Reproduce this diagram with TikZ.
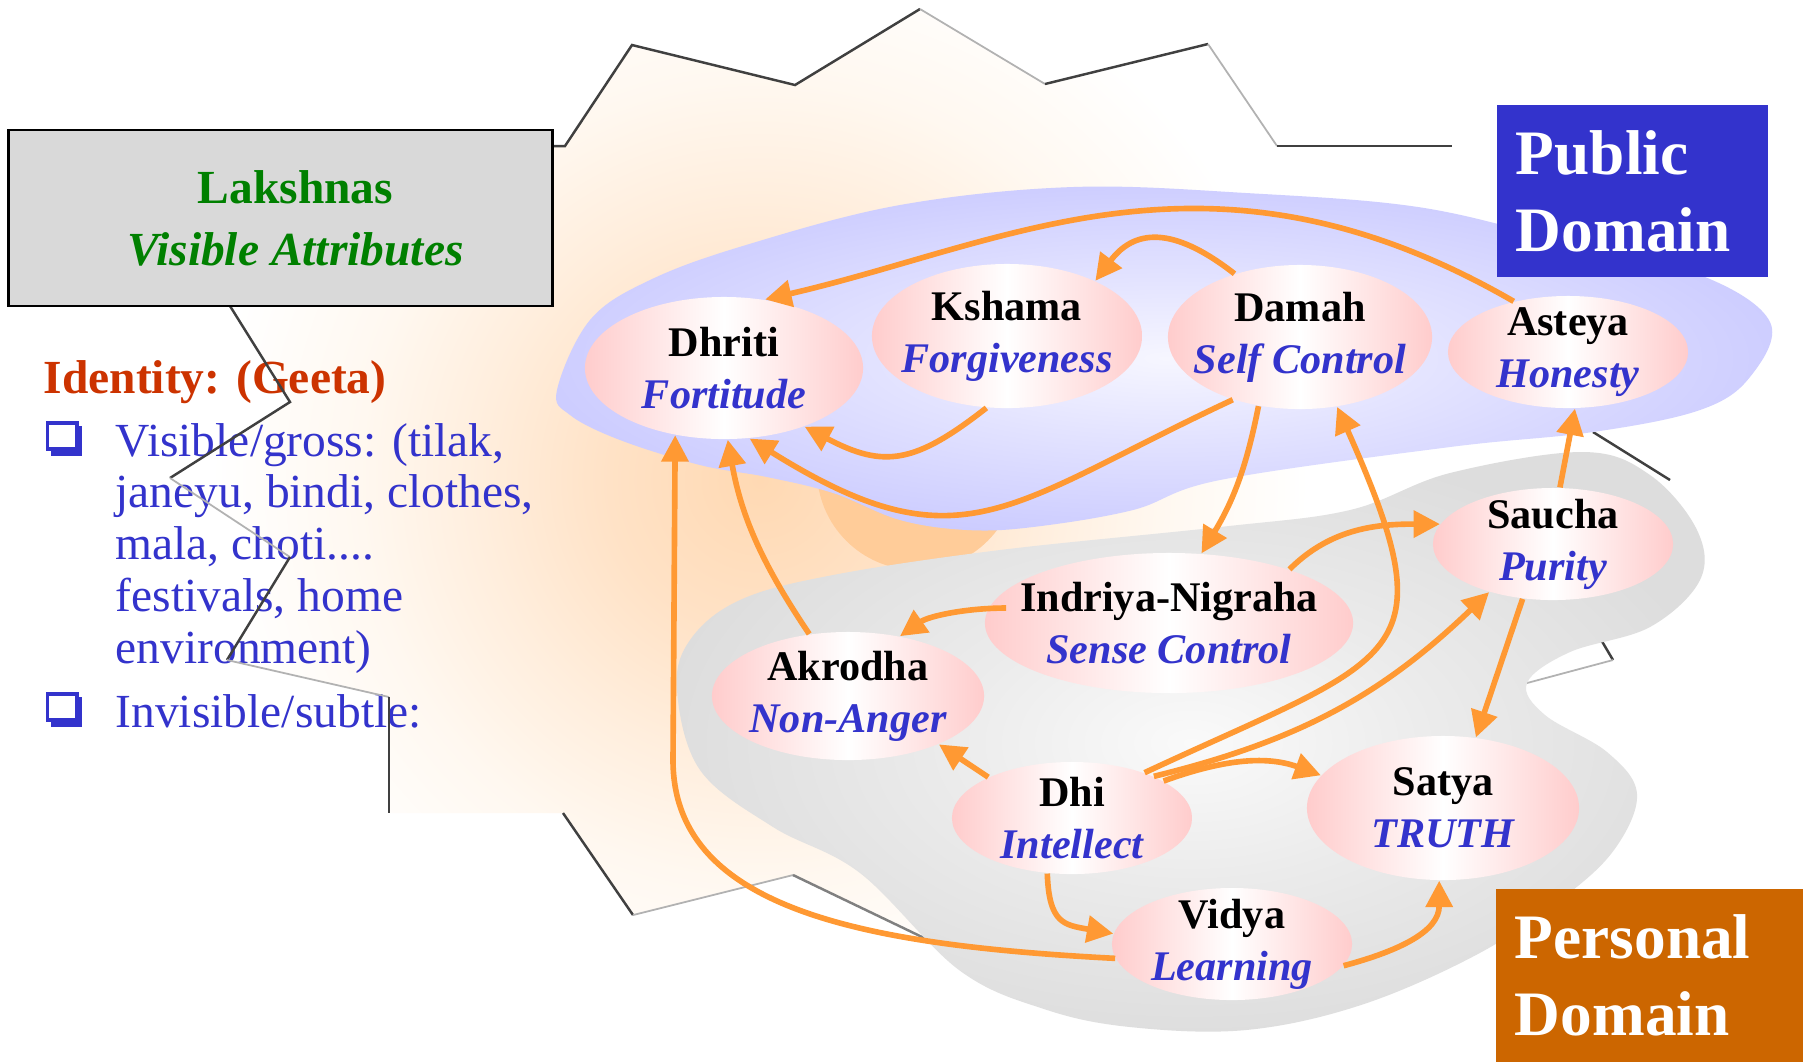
\documentclass[tikz,border=0pt]{standalone}
\usepackage{fontspec}
\setmainfont{Liberation Serif}
\usepackage{tikz}
\usetikzlibrary{arrows.meta, shapes.geometric}
\definecolor{pfeil}{HTML}{FF9933}
\definecolor{tinte}{HTML}{3333CC}
\definecolor{rosa}{HTML}{FFCCCC}
\definecolor{lila}{HTML}{CCCCFF}
\definecolor{lilamitte}{HTML}{E2E2FF}
\definecolor{lilahell}{HTML}{F6F6FF}
\definecolor{grau}{HTML}{DDDDDD}
\definecolor{graumitte}{HTML}{EBEBEB}
\definecolor{grauhell}{HTML}{FAFAFA}
\definecolor{pfirsich}{HTML}{FFCC99}
\definecolor{glut1}{HTML}{FFD9B3}
\definecolor{glut2}{HTML}{FFE2C6}
\definecolor{glut3}{HTML}{FFEEDD}
\definecolor{glut4}{HTML}{FFF8F0}
\definecolor{rostrot}{HTML}{CC3300}
\definecolor{gruen}{HTML}{008000}
\definecolor{ocker}{HTML}{CC6600}
\definecolor{kasten}{HTML}{D9D9D9}

\pgfdeclareradialshading{glut}{\pgfpoint{0bp}{0bp}}{color(0bp)=(glut1); color(5.4bp)=(glut2); color(10bp)=(glut3); color(14.3bp)=(glut4); color(19.6bp)=(white); color(50bp)=(white)}
\pgfdeclareradialshading{lilaverlauf}{\pgfpoint{0bp}{0bp}}{color(0bp)=(lilahell); color(12bp)=(lilamitte); color(26bp)=(lila); color(50bp)=(lila)}
\pgfdeclareradialshading{grauverlauf}{\pgfpoint{0bp}{0bp}}{color(0bp)=(grauhell); color(12bp)=(graumitte); color(26bp)=(grau); color(50bp)=(grau)}

\newcommand\paar[2]{#1\\\textcolor{tinte}{\itshape #2}}

\begin{document}
\begin{tikzpicture}[x=0.01cm, y=-0.01cm,
    tugend/.style 2 args={ellipse, inner sep=0pt, minimum width=#1,
      minimum height=#2, left color=rosa, right color=rosa, middle color=white},
    tugtext/.style={align=center, inner sep=0pt,
      font=\fontsize{12}{14.8}\selectfont\bfseries},
    flow/.style={draw=pfeil, line width=1.6pt,
      -{Triangle[length=7.5pt, width=7.5pt]}},
    bereich/.style={align=left, inner xsep=0.19cm, inner ysep=0pt, text=white,
      font=\fontsize{18}{21.9}\selectfont\bfseries},
    liste/.style={anchor=base west, align=left, inner sep=0pt, text=tinte,
      font=\fontsize{13.5}{14.7}\selectfont},
    kante/.style={draw=black!75, line width=0.7pt},
    kantehell/.style={draw=black!30, line width=0.5pt}]

  \useasboundingbox (0,0) rectangle (1803,1062);
  \fill[white] (0,0) rectangle (1803,1062);

  % Stern mit Glut
  \begin{scope}
    \clip (230,306) -- (290,402) -- (170,478) -- (290,557) -- (227,660)
      -- (389,697) -- (389,813) -- (563,813) -- (633,915) -- (793,875)
      -- (945,948) -- (1300,1000) -- (1527,683) -- (1613,660) -- (1600,638)
      -- (1670,480) -- (1593,432) -- (1560,146) -- (1277,146) -- (1208,44)
      -- (1045,84) -- (920,9) -- (795,85) -- (632,45) -- (565,146)
      -- (552,146) -- (552,306) -- cycle;
    \shade[shading=glut] (760,480) circle (7cm);
    \fill[pfirsich] (917,470) circle (1cm);
  \end{scope}

  % Liste links
  \node[anchor=base west, inner sep=0pt, text=rostrot,
    font=\fontsize{13.5}{14.7}\selectfont\bfseries] (identity) at (43,393)
    {Identity: (Geeta)};
  \node[liste] (sichtbar) at (115,663) {Visible/gross: (tilak,\\janeyu, bindi, clothes,\\mala, choti....\\festivals, home\\environment)};
  \node[liste] (unsichtbar) at (115,727) {Invisible/subtle:};
  \foreach \y in {456,727} {
    \fill[tinte] (51,\y-30) rectangle (82,\y);
    \filldraw[fill=white, draw=tinte, line width=0.9pt] (47.5,\y-33) rectangle (77,\y-7);
  }

  % Kanten des Sterns
  \draw[kante] (552,146) -- (565,146) -- (632,45) -- (795,85) -- (920,9);
  \draw[kantehell] (920,9) -- (1045,84);
  \draw[kante] (1045,84) -- (1208,44);
  \draw[kantehell] (1208,44) -- (1277,146);
  \draw[kante] (1277,146) -- (1452,146);
  \draw[kante] (230,306) -- (290,402) -- (170,478);
  \draw[kantehell] (170,478) -- (290,557);
  \draw[kante] (290,557) -- (227,660);
  \draw[kantehell] (227,660) -- (389,697);
  \draw[kante] (389,697) -- (389,813);
  \draw[kante] (563,813) -- (633,915);
  \draw[kantehell] (633,915) -- (793,875);
  \draw[kante, draw=black!50] (793,875) -- (945,948);
  \draw[kante] (1593,432) -- (1670,480);
  \draw[kante] (1600,638) -- (1613,660);
  \draw[kantehell] (1613,660) -- (1527,683);

  % Bereiche
  \shade[shading=lilaverlauf] plot[smooth cycle, tension=0.6] coordinates {
    (557,390) (590,320) (650,280) (746,245) (900,205) (1073,187) (1246,193)
    (1418,207) (1560,240) (1700,275) (1770,322) (1750,377) (1700,410)
    (1593,432) (1450,447) (1220,480) (1133,510) (1033,527) (967,530)
    (900,520) (833,493) (767,477) (700,465) (620,440) (570,415)};
  \shade[shading=grauverlauf] plot[smooth cycle, tension=0.6] coordinates {
    (677,690) (690,640) (740,600) (833,575) (1000,550) (1220,527) (1350,510)
    (1450,473) (1583,452) (1650,475) (1697,530) (1700,580) (1650,627)
    (1570,652) (1527,683) (1545,715) (1607,752) (1637,794) (1614,850)
    (1560,900) (1476,955) (1361,1005) (1246,1030) (1130,1027) (1044,1009)
    (959,970) (860,873) (773,827) (700,770)};

  % Kaesten
  \node[draw=black, line width=0.8pt, fill=kasten, minimum width=5.43cm,
    minimum height=1.76cm, inner sep=0pt,
    label={[text=gruen, font=\fontsize{13.5}{17.6}\selectfont\bfseries,
      align=center, xshift=0.15cm]center:{Lakshnas\\\textit{Visible Attributes}}}]
    (lakshnas) at (280.5,218) {};
  \node[bereich, fill=tinte, text width=2.33cm, minimum height=1.72cm]
    (public) at (1632.5,191) {Public\\Domain};
  \node[bereich, fill=ocker, text width=2.69cm, minimum height=1.73cm]
    (personal) at (1649.5,975.5) {Personal\\Domain};

  % Tugenden
  \node[tugend={2.78cm}{1.42cm}, label={[tugtext]center:{\paar{Dhriti}{Fortitude}}}] (dhriti) at (724,368) {};
  \node[tugend={2.70cm}{1.44cm}, label={[tugtext]center:{\paar{Kshama}{Forgiveness}}}] (kshama) at (1007,336) {};
  \node[tugend={2.64cm}{1.44cm}, label={[tugtext]center:{\paar{Damah}{Self Control}}}] (damah) at (1300,337) {};
  \node[tugend={2.40cm}{1.12cm}, label={[tugtext]center:{\paar{Asteya}{Honesty}}}] (asteya) at (1568,352) {};
  \node[tugend={2.40cm}{1.12cm}, label={[tugtext]center:{\paar{Saucha}{Purity}}}] (saucha) at (1553,544) {};
  \node[tugend={3.68cm}{1.40cm}, label={[tugtext]center:{\paar{Indriya-Nigraha}{Sense Control}}}] (indriya) at (1169,623) {};
  \node[tugend={2.72cm}{1.28cm}, label={[tugtext]center:{\paar{Akrodha}{Non-Anger}}}] (akrodha) at (848,696) {};
  \node[tugend={2.40cm}{1.12cm}, label={[tugtext]center:{\paar{Dhi}{Intellect}}}] (dhi) at (1072,818) {};
  \node[tugend={2.72cm}{1.44cm}, label={[tugtext]center:{\paar{Satya}{TRUTH}}}] (satya) at (1443,808) {};
  \node[tugend={2.40cm}{1.12cm}, label={[tugtext]center:{\paar{Vidya}{Learning}}}] (vidya) at (1232,944) {};

  % Pfeile
  \draw[flow] (asteya.137.6) to[out=150, in=13, out distance=3.5cm, in distance=2.5cm] (dhriti.59);
  \draw[flow] (damah.136) to[out=142, in=53, out distance=0.7cm, in distance=0.7cm] (kshama.32);
  \draw[flow] (kshama.-106.6) to[out=218, in=-28, out distance=0.9cm, in distance=0.9cm] (dhriti.-36.4);
  \draw[flow] (damah.223) to[out=205, in=-32, out distance=2.5cm, in distance=2.5cm] (dhriti.-70.6);
  \draw[flow] (damah.-121) to[bend left=10] (indriya.65.6);
  \draw[flow] (dhi.32.8) to[out=25, in=-66, out distance=2.8cm, in distance=2.8cm] (damah.-62.8);
  \draw[flow] (dhi.27) to[bend right=15] (saucha.217);
  \draw[flow] (dhi.22.6) to[out=20, in=160, out distance=0.6cm, in distance=0.6cm] (satya.165.6);
  \draw[flow] (dhi.154.5) -- (akrodha.-28.6);
  \draw[flow] (dhi.-114) to[out=-88, in=170, out distance=0.5cm, in distance=0.5cm] (vidya.175);
  \draw[flow] (vidya.187) to[out=177, in=-90, out distance=2.5cm, in distance=1.5cm] (673,760) -- (dhriti.234.5);
  \draw[flow] (akrodha.122) to[out=124, in=-80, out distance=0.8cm, in distance=0.8cm] (dhriti.-87);
  \draw[flow] ([shift={(22,-15)}]indriya.west) to[out=180, in=35, out distance=0.4cm, in distance=0.35cm] (akrodha.49.4);
  \draw[flow] (indriya.24.7) to[out=45, in=180, out distance=0.6cm, in distance=0.6cm] (saucha.170);
  \draw[flow] (saucha.83) -- (asteya.-83);
  \draw[flow] (saucha.-119) -- (satya.65.5);
  \draw[flow] (vidya.-11) to[out=15, in=-90, out distance=0.6cm, in distance=0.5cm] (satya.-93);
\end{tikzpicture}
\end{document}
